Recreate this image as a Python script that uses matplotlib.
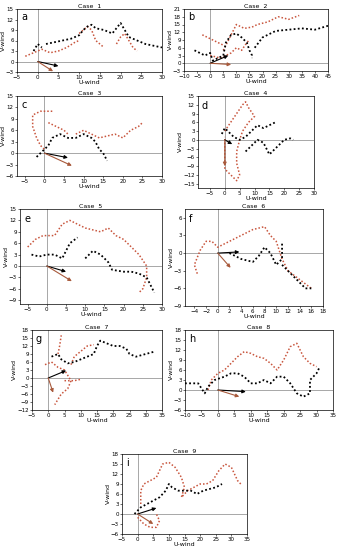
import numpy as np
import matplotlib
matplotlib.use("Agg")
from matplotlib import pyplot as plt

N = None

# panel a
a_black_u = [-1, 0, 1, N, 2, 4, 6, 8, 10, 11, 12, 13, 14, 16, 18, 19, 20, 21, 22, 24, 26, 28, 30, 31]
a_black_v = [3, 5, 4, N, 5, 5.5, 6, 6.5, 7.5, 9, 10, 10.5, 9.5, 9, 8, 9.5, 11, 9, 7, 6, 5, 4.5, 4, 0]
a_red_u = [-3, -1, 1, 3, 5, 7, 9, 10, N, 10, 11, 12, 13, 14, 16, N, 19, 20, 21, 22, 23, 24]
a_red_v = [1.5, 2.5, 3.5, 2.5, 3, 4, 5.5, 6, N, 8, 9, 10, 9, 6, 4, N, 5, 7, 8, 6, 4, 3]
a_arrows = [(5, -1.3, "k"), (3.7, -2.8, "r")]

# panel b
b_black_u = [-6, -4, -2, 0, 1, 3, 5, 6, 8, 10, 12, 14, 15, 16, 16, N, 17, 20, 25, 30, 35, 40, 45]
b_black_v = [5, 4, 3, 4, 1, 2, 3, 8, 11, 11.5, 10, 8, 5, 3, 2, N, 6, 10, 12.5, 13, 13.5, 13, 14.5]
b_red_u = [-3, 0, 3, 5, N, 5, 7, 9, 10, 13, 16, 18, 22, 26, 30, 34, N, 0, 4, 8, 10, 12, 14, 15]
b_red_v = [11, 9.5, 8, 7, N, 5, 9, 13, 15, 13.5, 14, 15, 16, 18, 17, 18.5, N, 3, 2, 4, 6, 5, 8, 9]
b_arrows = [(6.9, 3, "k"), (8, -0.5, "r")]

# panel c
c_black_u = [-2, 0, 1, 2, 4, 6, 8, 10, 12, 13, 14, 15, 16]
c_black_v = [-1, 1, 2, 4, 5, 4, 4, 5, 4, 3, 1, 0, -2]
c_red_u = [2, -1, -3, -3, -2, -1, 0, N, 1, 3, 5, 6, N, 8, 10, 12, 14, 16, 18, 20, 22, 24, 25]
c_red_v = [11, 11, 10, 7, 4, 2, 1, N, 8, 7, 6, 5, N, 5, 6, 5, 4, 4.5, 5, 4, 6, 7, 8]
c_arrows = [(6, -1.2, "k"), (7, -3.3, "r")]

# panel d
d_black_u = [-1, 0, 1, 3, 5, 7, 9, 11, 13, 15, 17, N, 7, 9, 11, 13, 15, 17, 20, 22, 23]
d_black_v = [2, 4, 3, 1, 0, 1, 3, 5, 4, 5, 6, N, -4, -2, 0, -1, -5, -3, 0, 0.5, 0]
d_red_u = [0, 2, 4, 6, 7, 8, 10, 8, 6, 5, 4, 4, 5, 4, 2, 0, 0, 0, 0]
d_red_v = [3, 6, 9, 12, 13, 11, 8, 6, 3, 0, -4, -8, -12, -14, -12, -10, -6, -2, 1]
d_arrows = [(2.5, -1.5, "k"), (0, -9, "r")]

# panel e
e_black_u = [-4, -2, 0, 2, 4, 5, 6, 8, N, 10, 12, 14, 16, 17, 20, 22, 24, 26, 27, 28]
e_black_v = [3, 2.5, 3, 3, 2, 4, 6, 7.5, N, 2, 4, 3, 1, -1, -1.5, -1.5, -2, -3, -5, -7]
e_red_u = [-5, -3, -1, 2, 4, 6, 8, 10, 12, 14, 16, 18, 20, 22, 24, 26, 26, 25, 24]
e_red_v = [5, 7, 8, 8, 11, 12, 11, 10, 9.5, 9, 10, 8, 7, 5, 3, 0, -3, -6, -7]
e_arrows = [(5, -1.5, "k"), (6.5, -4, "r")]

# panel f
f_black_u = [2, 4, 6, 7, 8, 9, 10, 11, 11, N, 11, 12, 13, 14, 15, 16]
f_black_v = [0, -1, -1.5, -0.5, 1, 0, -2, -1, 2, N, -2, -3, -4, -5, -6, -6]
f_red_u = [-3.5, -4, -3, -2, -1, 0, 2, 4, 6, 8, 9, 10, 11, 12, 14, 16]
f_red_v = [-3.5, -2, 0.5, 2, 2, 1, 2, 3, 4, 4.5, 3, 2, -1, -3, -4.5, -6]
f_arrows = [(3.7, 0.2, "k"), (2.2, -2.5, "r")]

# panel g
g_black_u = [1, 3, 4, 6, 8, 10, 12, 14, 15, 16, 18, 20, 22, 24, 25, 27, 30, 33]
g_black_v = [8, 9, 7, 5.5, 6, 7, 8, 9, 12, 14, 13, 12, 12, 11, 9, 8, 9, 10]
g_red_u = [3, 3.5, 4, N, -1, 1, 3, 5, 6, 7, 6, 4, 3, 2, N, 7, 8, 10, 12, 14, N, 5, 8, 10]
g_red_v = [9, 12, 16, N, 5, 6, 4, 3, 1, -1, -4, -6, -8, -10, N, 5, 8, 10, 12, 12.5, N, -1, -1, -0.5]
g_arrows = [(5.5, 2.8, "k"), (1.5, -5.5, "r")]

# panel h
h_black_u = [-10, -8, -6, -4, -3, -1, 2, 4, 6, 8, 10, 12, 14, 16, 18, 20, 22, 24, 26, 28, 28, 30, 31]
h_black_v = [2, 2, 2, -1, 1, 3, 4, 5, 5, 4, 2, 2, 3, 2, 4, 4, 2, -1, -2, -1, 3, 5, 7]
h_red_u = [-3, -2, 0, 2, 4, 6, 8, 10, 12, 14, 16, 18, 20, 22, 24, 26, 28, 30]
h_red_v = [0, 3, 5, 6, 8, 10, 11.5, 11, 10, 9.5, 8, 6, 9, 13, 14, 10, 8, 7]
h_arrows = [(8.5, -0.5, "k"), (6.5, -2, "r")]

# panel i
i_black_u = [-1, 1, 3, 5, 7, 9, 10, 11, 13, 15, 17, 19, 21, 23, 25, 27]
i_black_v = [0, 2, 3, 4, 5, 7, 9, 8, 7, 7, 7, 6, 7, 7.5, 8, 9]
i_red_u = [1, 1, 2, 4, 6, 8, 10, 12, 14, 15, 14, 16, 18, 20, 22, 24, 26, 28, 30, 32, 33, N, 0, 2, 4, 6, 7, 6]
i_red_v = [3, 7, 9, 10, 11, 15, 15.5, 14, 11, 8, 5, 7, 8, 9, 9, 10, 13, 15, 14, 10, 9, N, -1, -3, -4, -4, -2, 0]
i_arrows = [(6, 1.8, "k"), (5, -3, "r")]

panels = [
    ("a", "Case  1", a_black_u, a_black_v, a_red_u, a_red_v, a_arrows, (-5, 30), range(-5, 31, 5), (-3, 15), range(-3, 16, 3), [17, 9, 162, 72]),
    ("b", "Case  2", b_black_u, b_black_v, b_red_u, b_red_v, b_arrows, (-10, 45), range(-10, 46, 5), (-3, 21), range(-3, 22, 3), [184, 9, 328, 71]),
    ("c", "Case  3", c_black_u, c_black_v, c_red_u, c_red_v, c_arrows, (-7, 30), range(-5, 31, 5), (-6, 15), range(-6, 16, 3), [17, 96, 162, 176]),
    ("d", "Case  4", d_black_u, d_black_v, d_red_u, d_red_v, d_arrows, (-9, 30), range(-5, 31, 5), (-16.5, 15), range(-15, 16, 3), [198, 96, 314, 188]),
    ("e", "Case  5", e_black_u, e_black_v, e_red_u, e_red_v, e_arrows, (-7, 30), range(-5, 31, 5), (-10, 15), range(-9, 16, 3), [20, 209, 162, 304]),
    ("f", "Case  6", f_black_u, f_black_v, f_red_u, f_red_v, f_arrows, (-5.6, 18), range(-4, 19, 2), (-9, 7.5), range(-9, 7, 3), [185, 209, 323, 306]),
    ("g", "Case  7", g_black_u, g_black_v, g_red_u, g_red_v, g_arrows, (-5, 35), range(-5, 36, 5), (-12, 18), range(-12, 19, 3), [32, 330, 162, 410]),
    ("h", "Case  8", h_black_u, h_black_v, h_red_u, h_red_v, h_arrows, (-10, 35), range(-10, 36, 5), (-6, 18), range(-6, 19, 3), [185, 330, 333, 410]),
    ("i", "Case  9", i_black_u, i_black_v, i_red_u, i_red_v, i_arrows, (-5, 35), range(-5, 36, 5), (-6, 18), range(-6, 19, 3), [122, 454, 247, 534]),
]

W, H = 340, 550
RED = "#c8553d"
ARROW_RED = "#a85a3c"

def arr(x):
    return np.array([np.nan if v is None else v for v in x], dtype=float)

fig = plt.figure(figsize=(W / 100, H / 100), dpi=100)

for (letter, title, bu, bv, ru, rv, arrows, xl, xt, yl, yt, box) in panels:
    x0, y0, x1, y1 = box
    ax = fig.add_axes([x0 / W, 1 - y1 / H, (x1 - x0) / W, (y1 - y0) / H])
    ax.axhline(0, color="#999999", lw=0.6, zorder=0)
    ax.axvline(0, color="#999999", lw=0.6, zorder=0)
    ax.plot(arr(ru), arr(rv), ls=(0, (1, 1.3)), color=RED, lw=1.1)
    ax.plot(arr(bu), arr(bv), ls=(0, (1, 1.3)), color="black", lw=1.3)
    for (u, v, c) in arrows:
        col = "black" if c == "k" else ARROW_RED
        ax.annotate("", xy=(u, v), xytext=(0, 0),
                    arrowprops=dict(arrowstyle="-|>", color=col, lw=0.8,
                                    mutation_scale=5, shrinkA=0, shrinkB=0))
    ax.set_xlim(*xl)
    ax.set_ylim(*yl)
    ax.set_xticks(list(xt))
    ax.set_yticks(list(yt))
    ax.tick_params(labelsize=4, length=1.5, width=0.4, pad=0.8)
    for s in ax.spines.values():
        s.set_linewidth(0.5)
    ax.set_xlabel("U-wind", fontsize=4.5, labelpad=0)
    ax.set_ylabel("V-wind", fontsize=4.5, labelpad=0)
    ax.set_title(title, fontsize=4.5, pad=1)
    ax.text(0.03, 0.95, letter, transform=ax.transAxes, fontsize=7, va="top", ha="left")

fig.savefig("out.png", dpi=100)
